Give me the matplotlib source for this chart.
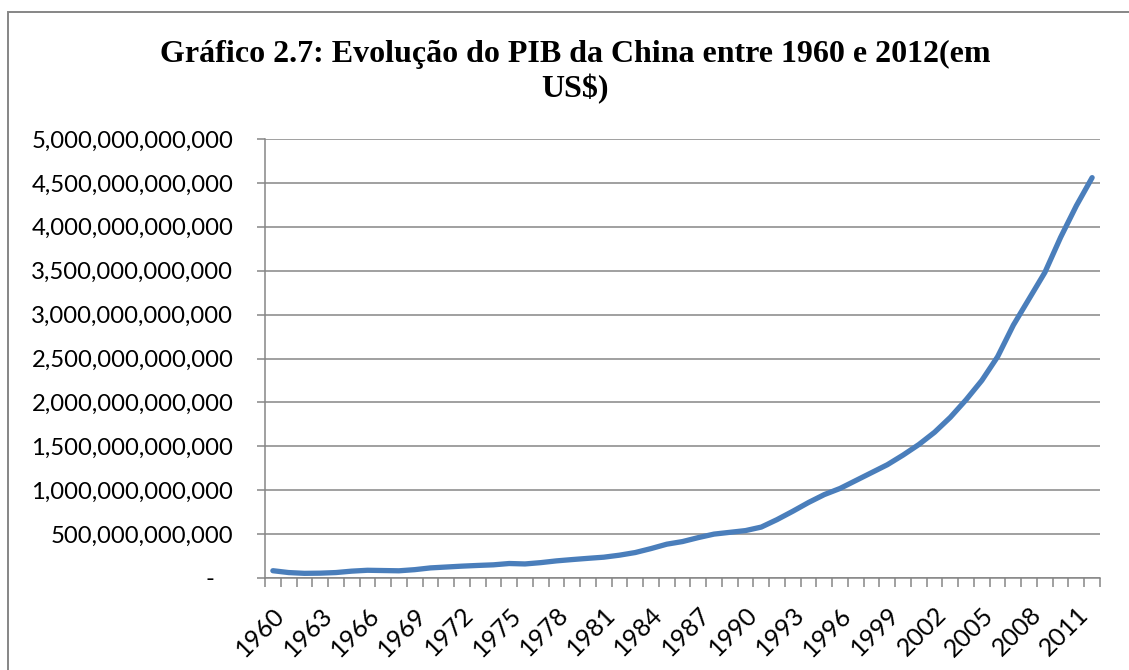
import numpy as np
import matplotlib
matplotlib.use('Agg')
import matplotlib.pyplot as plt
from matplotlib.ticker import FuncFormatter, FixedLocator
from matplotlib.patches import Rectangle

# PIB da China (US$)
years = list(range(1960, 2013))
pib_tri = [0.083, 0.062, 0.053, 0.055, 0.062, 0.078, 0.088, 0.085, 0.082, 0.095,
           0.115, 0.125, 0.135, 0.143, 0.150, 0.165, 0.160, 0.175, 0.195, 0.210,
           0.224, 0.237, 0.260, 0.290, 0.335, 0.385, 0.415, 0.460, 0.500, 0.520,
           0.540, 0.580, 0.665, 0.760, 0.860, 0.950, 1.020, 1.110, 1.200, 1.290,
           1.400, 1.520, 1.660, 1.830, 2.030, 2.250, 2.520, 2.880, 3.180, 3.480,
           3.880, 4.240, 4.560]
pib = np.array(pib_tri) * 1e12
year_labels = [str(y) for y in years[::3]]

grey = '#868686'
blue = '#4A7EBB'

fig = plt.figure(figsize=(11.29, 6.70), dpi=100)
ax = fig.add_axes([265 / 1129, 92 / 670, 835 / 1129, 439 / 670])

# moldura do grafico
fig.patches.append(Rectangle((8 / 1129, -0.01), 1.0, (658 / 670) + 0.01,
                             transform=fig.transFigure, fill=False,
                             edgecolor=grey, linewidth=1.4))

x = np.arange(len(years))
ax.plot(x, pib, color=blue, linewidth=3.8, solid_capstyle='round',
        solid_joinstyle='round', zorder=3)

ax.set_xlim(-0.5, len(years) - 0.5)
ax.set_ylim(0, 5e12)
ax.set_yticks(np.arange(0, 5.01e12, 0.5e12))
ax.yaxis.set_major_formatter(FuncFormatter(
    lambda v, p: '-   ' if v == 0 else f'{v:,.0f}'))
ax.grid(axis='y', color=grey, linewidth=1.1)
ax.set_axisbelow(True)

ax.xaxis.set_major_locator(FixedLocator(x[::3]))
ax.set_xticklabels(year_labels)
ax.xaxis.set_minor_locator(FixedLocator(np.arange(-0.5, len(years), 1.0)))
ax.tick_params(axis='x', which='major', length=0, pad=18)
ax.tick_params(axis='x', which='minor', length=6.5, width=1.1, color=grey,
               direction='out')
ax.tick_params(axis='y', length=5.8, width=1.1, color=grey, direction='out',
               pad=17)

for lab in ax.get_xticklabels():
    lab.set_rotation(45)
    lab.set_ha('right')
    lab.set_va('top')
    lab.set_rotation_mode('anchor')
    lab.set_fontfamily('Lato')
    lab.set_fontsize(18)
for lab in ax.get_yticklabels():
    lab.set_fontfamily('Lato')
    lab.set_fontsize(17.2)

for s in ['top', 'right']:
    ax.spines[s].set_visible(False)
for s in ['left', 'bottom']:
    ax.spines[s].set_color(grey)
    ax.spines[s].set_linewidth(1.1)

fig.text(575 / 1129, 1 - 40 / 670,
         'Gráfico 2.7: Evolução do PIB da China entre 1960 e 2012(em\nUS$)',
         ha='center', va='top', fontfamily='Liberation Serif',
         fontweight='bold', fontsize=23, linespacing=1.2)

fig.savefig('out.png', dpi=100)
